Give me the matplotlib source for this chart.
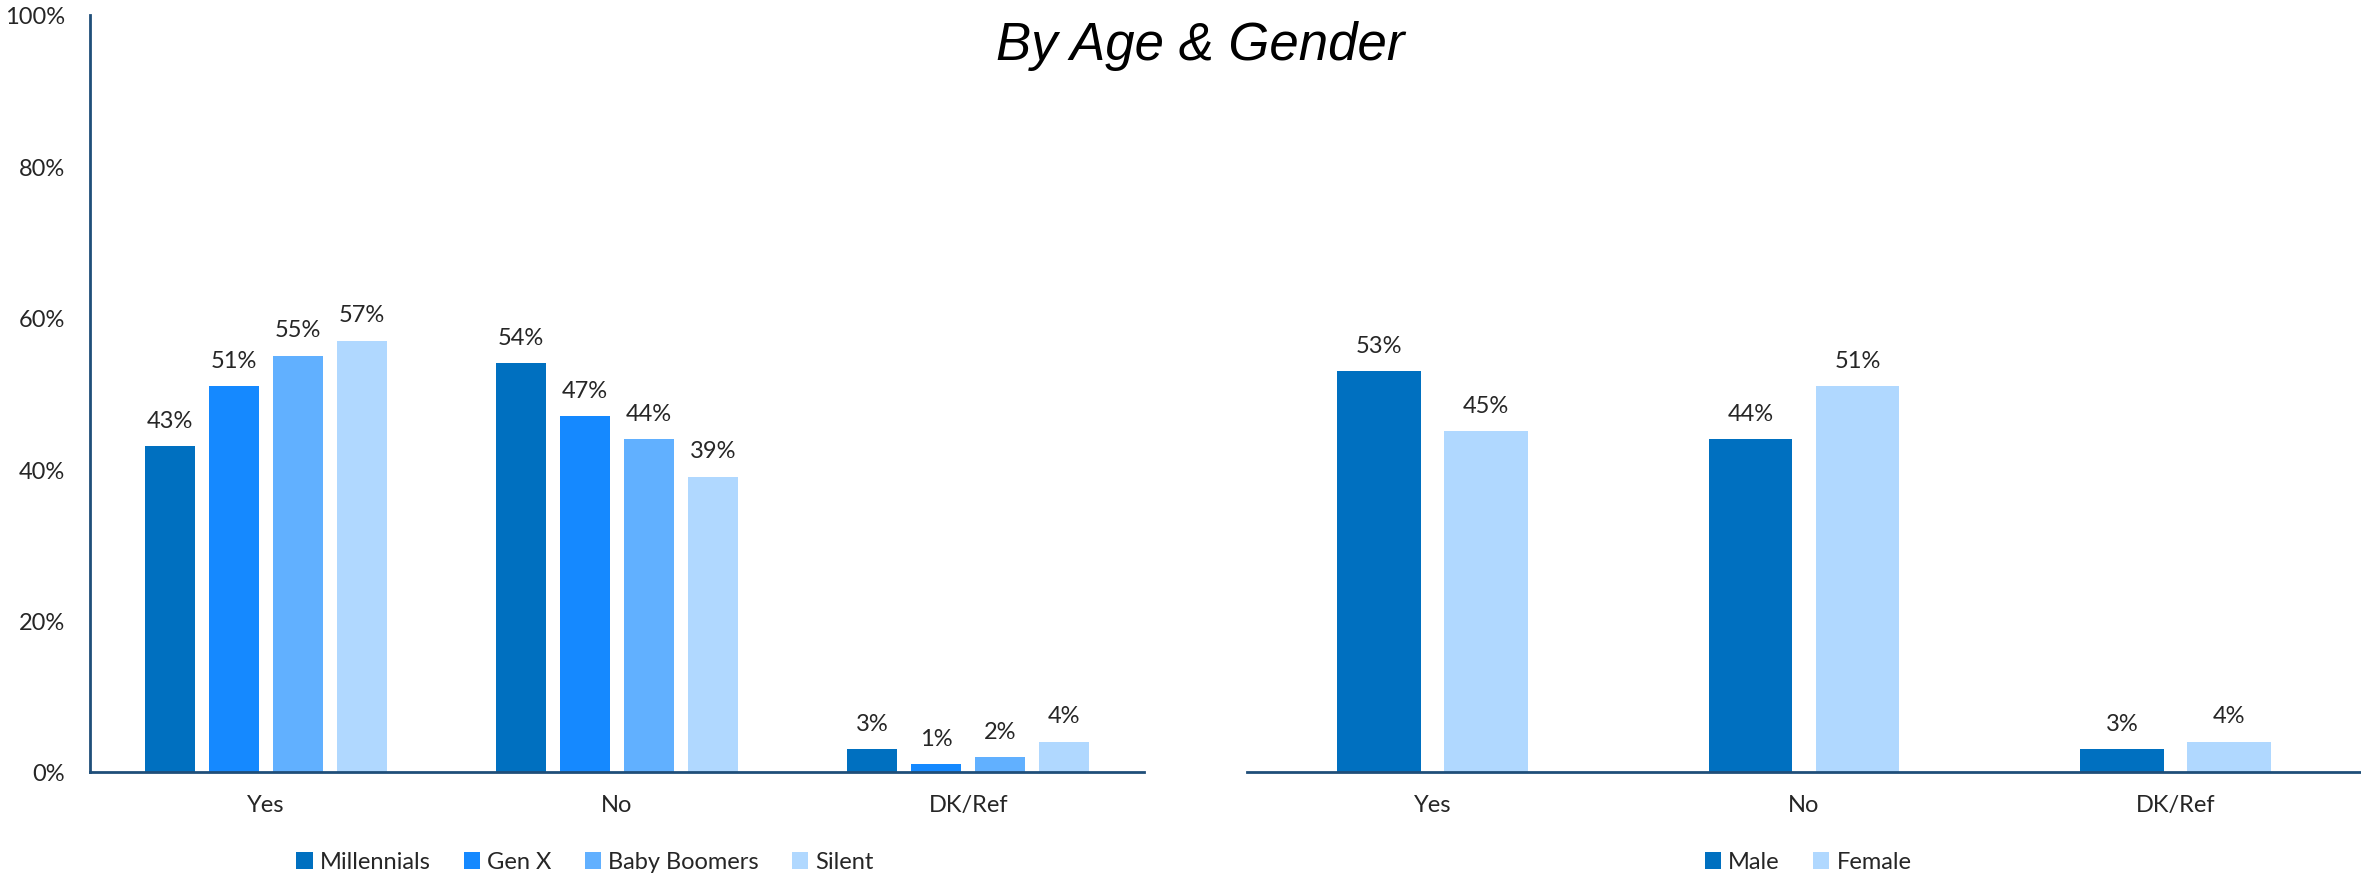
import numpy as np
import matplotlib
matplotlib.use("Agg")
import matplotlib.pyplot as plt
from matplotlib.ticker import FuncFormatter

answers = ["Yes", "No", "DK/Ref"]

age_groups = ["Millennials", "Gen X", "Baby Boomers", "Silent"]
millennials = [43, 54, 3]
gen_x = [51, 47, 1]
baby_boomers = [55, 44, 2]
silent = [57, 39, 4]

genders = ["Male", "Female"]
male = [53, 44, 3]
female = [45, 51, 4]

age_colors = ["#0070C0", "#1589FF", "#61B0FF", "#B0D8FF"]
gender_colors = ["#0070C0", "#B0D8FF"]
axis_color = "#1F4E79"
text_color = "#262626"
fs = 17

plt.rcParams["font.family"] = ["Lato", "DejaVu Sans"]

fig = plt.figure(figsize=(23.61, 8.78), dpi=100)
ax1 = fig.add_axes([90 / 2361, 1 - 773 / 878, 1054 / 2361, 757 / 878])
ax2 = fig.add_axes([1247 / 2361, 1 - 773 / 878, 1114 / 2361, 757 / 878])


def draw_group(ax, series, names, colors, width, pitch):
    x = np.arange(len(answers))
    n = len(series)
    for i, (vals, name, col) in enumerate(zip(series, names, colors)):
        pos = x + (i - (n - 1) / 2) * pitch
        bars = ax.bar(pos, vals, width=width, color=col, label=name, zorder=2)
        for b, v in zip(bars, vals):
            ax.annotate(f"{v}%", (b.get_x() + b.get_width() / 2, v),
                        xytext=(0, 11), textcoords="offset points",
                        ha="center", va="bottom", fontsize=fs,
                        color=text_color)
    ax.set_xlim(-0.5, len(answers) - 0.5)
    ax.set_ylim(0, 100)
    ax.set_xticks(x)
    ax.set_xticklabels(answers, fontsize=fs, color=text_color)
    ax.tick_params(axis="x", length=0, pad=16)
    for side in ["top", "right"]:
        ax.spines[side].set_visible(False)
    ax.spines["bottom"].set_color(axis_color)
    ax.spines["bottom"].set_linewidth(2)
    ax.spines["bottom"].set_zorder(3)


draw_group(ax1, [millennials, gen_x, baby_boomers, silent], age_groups,
           age_colors, 0.142, 0.182)
draw_group(ax2, [male, female], genders, gender_colors, 0.226, 0.288)

# left panel keeps its percentage axis
ax1.set_yticks(np.arange(0, 101, 20))
ax1.yaxis.set_major_formatter(FuncFormatter(lambda v, _: f"{int(v)}%"))
ax1.tick_params(axis="y", length=0, pad=18, labelsize=fs,
                labelcolor=text_color)
ax1.spines["left"].set_color(axis_color)
ax1.spines["left"].set_linewidth(2)

# right panel has no visible y axis
ax2.spines["left"].set_visible(False)
ax2.set_yticks([])

leg_kw = dict(loc="center", ncol=4, frameon=False, fontsize=fs,
              handlelength=0.7, handleheight=0.7, handletextpad=0.3,
              columnspacing=1.4, labelcolor=text_color)
h1, l1 = ax1.get_legend_handles_labels()
fig.legend(h1, l1, bbox_to_anchor=(585 / 2361, 1 - 863 / 878),
           **leg_kw)
h2, l2 = ax2.get_legend_handles_labels()
fig.legend(h2, l2, bbox_to_anchor=(1808 / 2361, 1 - 863 / 878),
           **leg_kw)

fig.text(1200 / 2361, 1 - 60 / 878, "By Age & Gender", ha="center",
         va="baseline", fontsize=38, style="italic",
         family=["Liberation Sans", "DejaVu Sans"], color="black")

fig.savefig("out.png", dpi=100)
